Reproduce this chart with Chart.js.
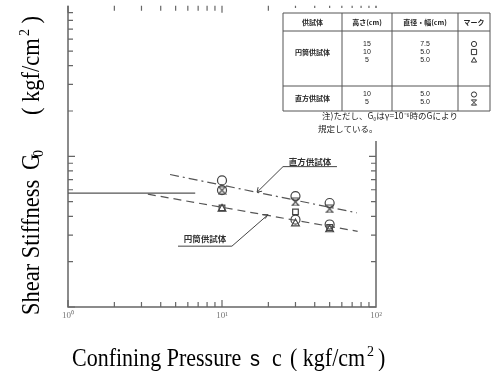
<!DOCTYPE html>
<html>
<head>
<meta charset="utf-8">
<script src="https://cdn.jsdelivr.net/npm/chart.js@4.4.1/dist/chart.umd.min.js"></script>
<style>
  html, body { margin: 0; padding: 0; background: #fff; }
</style>
</head>
<body>
<canvas id="g0Chart" width="495" height="371"></canvas>
<script>
// confining pressure (kgf/cm2) of the test points
const pressure = [10, 30, 50];
// G0 (kgf/cm2)
const cyl15 = [5960, 3800, 3530];   // 円筒 15cm  ○
const cyl10 = [4550, 4280, 3370];   // 円筒 10cm  □
const cyl5 = [4480, 3580, 3270];    // 円筒 5cm   △
const prism10 = [6920, 5450, 4900]; // 直方 10cm  ○
const prism5 = [5960, 4980, 4480];  // 直方 5cm   ⧗

// fitted lines
const prismFitX = [4.6, 75];
const prismFitY = [7580, 4220];
const cylFitX = [3.3, 76];
const cylFitY = [5610, 3180];
const refLineX = [1, 6.7];
const refLineY = [5700, 5700];

const xTickValues = [1, 10, 100];
const xTickLabels = ['10⁰', '10¹', '10²'];

// table in the corner
const tableHead = ['供試体', '高さ(cm)', '直径・幅(cm)', 'マーク'];
const rowNames = ['円筒供試体', '直方供試体'];
const cylHeights = ['15', '10', '5'];
const cylWidths = ['7.5', '5.0', '5.0'];
const prismHeights = ['10', '5'];
const prismWidths = ['5.0', '5.0'];

const ink = '#444';

function hourglass(size) {
    const c = document.createElement('canvas');
    c.width = size; c.height = size;
    const g = c.getContext('2d');
    g.strokeStyle = ink; g.lineWidth = 1.2;
    g.beginPath();
    g.moveTo(1, 1); g.lineTo(size - 1, 1); g.lineTo(1, size - 1); g.lineTo(size - 1, size - 1); g.closePath();
    g.stroke();
    return c;
}

function drawMark(ctx, style, x, y, r) {
    ctx.beginPath();
    if (style === 'circle') {
        ctx.arc(x, y, r, 0, Math.PI * 2);
    } else if (style === 'rect') {
        ctx.rect(x - r, y - r, 2 * r, 2 * r);
    } else if (style === 'triangle') {
        ctx.moveTo(x, y - r); ctx.lineTo(x + r, y + r * 0.8); ctx.lineTo(x - r, y + r * 0.8); ctx.closePath();
    } else {
        ctx.moveTo(x - r, y - r); ctx.lineTo(x + r, y - r); ctx.lineTo(x - r, y + r); ctx.lineTo(x + r, y + r); ctx.closePath();
    }
    ctx.stroke();
}

const pts = ys => pressure.map((x, i) => ({ x: x, y: ys[i] }));
const seg = (xs, ys) => xs.map((x, i) => ({ x: x, y: ys[i] }));

const markBase = {
    showLine: false,
    borderColor: ink,
    backgroundColor: 'rgba(0,0,0,0)',
    borderWidth: 1.2,
    pointRadius: 4.5,
};
const lineBase = {
    showLine: true,
    borderColor: '#555',
    borderWidth: 1.2,
    pointRadius: 0,
};

// axes, inward ticks and tick labels
const framePlugin = {
    id: 'frame',
    beforeDatasetsDraw(chart) {
        const { ctx, chartArea: a, scales: { x, y } } = chart;
        ctx.save();
        ctx.strokeStyle = '#666';
        ctx.lineWidth = 1.5;
        ctx.beginPath();
        ctx.moveTo(a.left, a.top); ctx.lineTo(a.left, a.bottom);
        ctx.lineTo(a.right, a.bottom); ctx.lineTo(a.right, a.top);
        ctx.stroke();
        ctx.lineWidth = 1.2;
        ctx.beginPath();
        for (let d = 0; d < 2; d++) {
            for (let k = 1; k <= 9; k++) {
                const px = x.getPixelForValue(k * Math.pow(10, d));
                const len = k === 1 ? 7 : 5;
                ctx.moveTo(px, a.bottom); ctx.lineTo(px, a.bottom - len);
                ctx.moveTo(px, a.top); ctx.lineTo(px, a.top + len);
            }
        }
        for (let d = 3; d < 5; d++) {
            for (let k = 1; k <= 9; k++) {
                const py = y.getPixelForValue(k * Math.pow(10, d));
                const len = k === 1 ? 7 : 5;
                ctx.moveTo(a.left, py); ctx.lineTo(a.left + len, py);
                ctx.moveTo(a.right, py); ctx.lineTo(a.right - len, py);
            }
        }
        ctx.stroke();
        ctx.fillStyle = '#777';
        ctx.font = '9px "Liberation Serif"';
        ctx.textAlign = 'center';
        ctx.textBaseline = 'top';
        xTickValues.forEach((v, i) => ctx.fillText(xTickLabels[i], x.getPixelForValue(v), a.bottom + 4));
        ctx.restore();
    },
    afterDatasetsDraw(chart) {
        const { ctx, scales: { x, y } } = chart;
        const P = (sx, sy) => [x.getPixelForValue(sx), y.getPixelForValue(sy)];
        ctx.save();

        // white block behind the table and note
        ctx.fillStyle = '#fff';
        ctx.fillRect(280, 8, 215, 133);

        // table
        const cols = [283, 342, 392, 458, 490];
        const rows = [13, 31, 86, 111];
        ctx.strokeStyle = '#555';
        ctx.lineWidth = 1;
        ctx.beginPath();
        cols.forEach(cx => { ctx.moveTo(cx, rows[0]); ctx.lineTo(cx, rows[3]); });
        rows.forEach(ry => { ctx.moveTo(cols[0], ry); ctx.lineTo(cols[4], ry); });
        ctx.stroke();
        const mid = i => (cols[i] + cols[i + 1]) / 2;
        ctx.fillStyle = '#222';
        ctx.textAlign = 'center';
        ctx.textBaseline = 'middle';
        ctx.font = 'bold 7px "Noto Sans CJK JP"';
        tableHead.forEach((t, i) => ctx.fillText(t, mid(i), 22));
        ctx.fillText(rowNames[0], mid(0), 52);
        ctx.fillText(rowNames[1], mid(0), 98);
        ctx.font = '7px "Liberation Sans"';
        const cylY = [44, 52, 60];
        const prismY = [94.5, 102.5];
        cylHeights.forEach((t, i) => ctx.fillText(t, mid(1), cylY[i]));
        cylWidths.forEach((t, i) => ctx.fillText(t, mid(2), cylY[i]));
        prismHeights.forEach((t, i) => ctx.fillText(t, mid(1), prismY[i]));
        prismWidths.forEach((t, i) => ctx.fillText(t, mid(2), prismY[i]));
        ctx.strokeStyle = '#333';
        ctx.lineWidth = 1;
        ['circle', 'rect', 'triangle'].forEach((s, i) => drawMark(ctx, s, mid(3), cylY[i], 2.6));
        ['circle', 'hourglass'].forEach((s, i) => drawMark(ctx, s, mid(3), prismY[i], 2.6));

        // note
        ctx.fillStyle = '#222';
        ctx.font = '8.5px "Noto Sans CJK JP"';
        ctx.textAlign = 'center';
        ctx.fillText('注)ただし、G₀はγ=10⁻⁶時のGにより', 390, 116);
        ctx.textAlign = 'left';
        ctx.fillText('規定している。', 318, 129);

        // leader labels
        ctx.strokeStyle = '#444';
        ctx.lineWidth = 1;
        ctx.font = 'bold 8.5px "Noto Sans CJK JP"';
        ctx.fillStyle = '#333';
        ctx.textAlign = 'center';
        let t = P(37.3, 9210);
        ctx.fillText('直方供試体', t[0], t[1]);
        let u0 = P(24.9, 8545), u1 = P(55.8, 8545), e = P(16.9, 5783);
        ctx.beginPath();
        ctx.moveTo(u1[0], u1[1]); ctx.lineTo(u0[0], u0[1]); ctx.lineTo(e[0], e[1]);
        ctx.moveTo(e[0], e[1]); ctx.lineTo(e[0] + 5, e[1] - 1);
        ctx.moveTo(e[0], e[1]); ctx.lineTo(e[0] + 1, e[1] - 5);
        ctx.stroke();
        t = P(7.76, 2816);
        ctx.fillText('円筒供試体', t[0], t[1]);
        u0 = P(5.18, 2534); u1 = P(11.6, 2534); e = P(19.9, 4098);
        ctx.beginPath();
        ctx.moveTo(u0[0], u0[1]); ctx.lineTo(u1[0], u1[1]); ctx.lineTo(e[0], e[1]);
        ctx.moveTo(e[0], e[1]); ctx.lineTo(e[0] - 6, e[1]);
        ctx.moveTo(e[0], e[1]); ctx.lineTo(e[0] - 3, e[1] + 4);
        ctx.stroke();

        // axis titles
        ctx.fillStyle = '#000';
        ctx.textAlign = 'left';
        ctx.textBaseline = 'alphabetic';
        ctx.save();
        ctx.translate(0, 366);
        ctx.scale(1, 1.1);
        ctx.font = '22px "Liberation Serif"';
        ctx.fillText('Confining Pressure', 72, 0);
        ctx.font = '20px "Liberation Sans"';
        ctx.fillText('s', 250, 0);
        ctx.font = '22px "Liberation Serif"';
        ctx.fillText('c', 272, 0);
        ctx.fillText('( kgf/cm', 290, 0);
        ctx.font = '14px "Liberation Serif"';
        ctx.fillText('2', 367, -9);
        ctx.font = '22px "Liberation Serif"';
        ctx.fillText(')', 378, 0);
        ctx.restore();

        ctx.save();
        ctx.translate(39, 315);
        ctx.rotate(-Math.PI / 2);
        ctx.scale(1, 1.08);
        ctx.font = '22.5px "Liberation Serif"';
        ctx.fillText('Shear Stiffness', 0, 0);
        ctx.fillText('G', 145, 0);
        ctx.font = '14px "Liberation Serif"';
        ctx.fillText('0', 158, 4);
        ctx.font = '22.5px "Liberation Serif"';
        ctx.fillText('( kgf/cm', 200, 0);
        ctx.font = '14px "Liberation Serif"';
        ctx.fillText('2', 279, -9);
        ctx.font = '22.5px "Liberation Serif"';
        ctx.fillText(' )', 286, 0);
        ctx.restore();

        ctx.restore();
    }
};

new Chart(document.getElementById('g0Chart').getContext('2d'), {
    type: 'scatter',
    data: {
        datasets: [
            { label: '直方供試体 フィット', data: seg(prismFitX, prismFitY), borderDash: [9, 4, 2, 4], ...lineBase },
            { label: '円筒供試体 フィット', data: seg(cylFitX, cylFitY), borderDash: [8, 5], ...lineBase },
            { label: '基準線', data: seg(refLineX, refLineY), ...lineBase },
            { label: '円筒 15cm', data: pts(cyl15), pointStyle: 'circle', ...markBase },
            { label: '円筒 10cm', data: pts(cyl10), pointStyle: 'rect', ...markBase, pointRadius: 4 },
            { label: '円筒 5cm', data: pts(cyl5), pointStyle: 'triangle', ...markBase },
            { label: '直方 10cm', data: pts(prism10), pointStyle: 'circle', ...markBase },
            { label: '直方 5cm', data: pts(prism5), pointStyle: hourglass(9), ...markBase },
        ],
    },
    options: {
        responsive: false,
        animation: false,
        layout: { padding: { left: 68, right: 119, top: 0, bottom: 64 } },
        plugins: {
            legend: { display: false },
            tooltip: { enabled: false },
        },
        scales: {
            x: { type: 'logarithmic', min: 1, max: 100, display: false },
            y: { type: 'logarithmic', min: 1000, max: 100000, display: false },
        },
    },
    plugins: [framePlugin],
});
</script>
</body>
</html>
